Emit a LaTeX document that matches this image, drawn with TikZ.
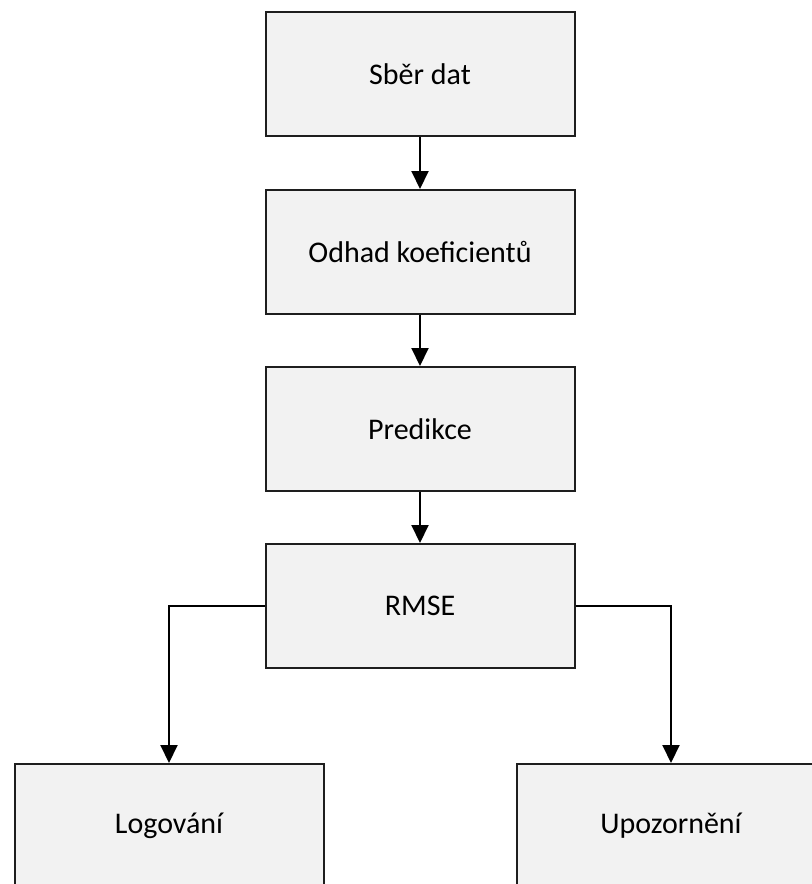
\documentclass[tikz,border=0pt]{standalone}
\usepackage{fontspec}
\setmainfont{Carlito}
\usetikzlibrary{arrows.meta, positioning}
\usepackage{xcolor}
\definecolor{boxfill}{RGB}{242, 242, 242}
\definecolor{boxline}{RGB}{30, 30, 30}

\begin{document}
\begin{tikzpicture}[
      every node/.style={font=\fontsize{15}{18}\selectfont},
      box/.style={rectangle, draw=boxline, line width=1pt, fill=boxfill,
                  minimum height=62pt, minimum width=154.5pt,
                  inner sep=0pt, align=center},
      arrow/.style={-{Triangle[length=9pt, width=8.5pt]}, line width=1pt, draw=black}
    ]
    \path[use as bounding box, clip] (0,0) rectangle (406pt,-442pt);

    \node[box] (sber) at (210pt,-37pt) {Sběr dat};
    \node[box, below=26pt of sber] (odhad) {Odhad koeficientů};
    \node[box, below=25.5pt of odhad] (pred) {Predikce};
    \node[box, below=25.5pt of pred] (rmse) {RMSE};
    \node[box, below=47pt of rmse, xshift=-125.5pt] (log) {Logování};
    \node[box, below=47pt of rmse, xshift=125.5pt] (upoz) {Upozornění};

    \draw[arrow] (sber)  -- (odhad);
    \draw[arrow] (odhad) -- (pred);
    \draw[arrow] (pred)  -- (rmse);
    \draw[arrow] (rmse.west) -| (log.north);
    \draw[arrow] (rmse.east) -| (upoz.north);
  \end{tikzpicture}
\end{document}
